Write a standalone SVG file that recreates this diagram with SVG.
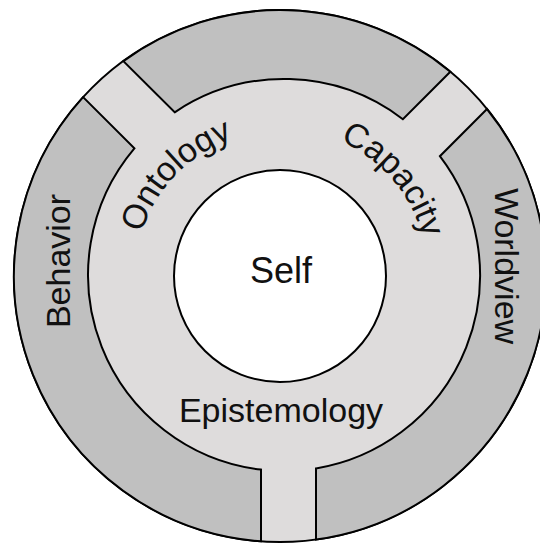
<svg xmlns="http://www.w3.org/2000/svg" width="540" height="544" viewBox="0 0 540 544">
  <style>
    .edge { stroke: #000; stroke-width: 2; stroke-linejoin: miter; }
    .base { fill: #dedcdc; }
    .band { fill: #c0c0c0; }
    .core { fill: #ffffff; }
    .label { font-family: "Liberation Sans", Arial, sans-serif; font-size: 34px; fill: #111; }
    .title { font-family: "Liberation Sans", Arial, sans-serif; font-size: 36px; fill: #111; }
  </style>
  <defs>
    <!-- baseline arcs for the curved labels, clockwise around the centre -->
    <path id="arc-left" d="M 135 276 A 145 145 0 0 1 280 131"/>
    <path id="arc-right" d="M 280 128 A 148 148 0 0 1 428 276"/>
  </defs>

  <!-- outer disc: the light channels show through between the bands -->
  <g id="disc">
    <circle class="base edge" cx="280" cy="276" r="266"/>
  </g>

  <!-- outer bands -->
  <g id="band-top">
    <path class="band edge" d="M 123.4 61.1 A 266 266 0 0 1 450.3 71.7 L 402.9 119.2 A 196 196 0 0 0 174.7 112.3 Z"/>
  </g>
  <g id="band-behavior">
    <path class="band edge" d="M 83.1 97.1 L 134.4 148.4 A 196 196 0 0 0 261 469.6 L 261 541.3 A 266 266 0 0 1 83.1 97.1 Z"/>
    <text class="label" text-anchor="middle" transform="translate(70 261) rotate(-90)">Behavior</text>
  </g>
  <g id="band-worldview">
    <path class="band edge" d="M 487 109 L 439.9 156.2 A 196 196 0 0 1 316 468.4 L 316 539.6 A 266 266 0 0 0 487 109 Z"/>
    <text class="label" text-anchor="middle" transform="translate(495 266) rotate(90)">Worldview</text>
  </g>

  <!-- inner ring labels -->
  <g id="ontology">
    <text class="label"><textPath href="#arc-left" startOffset="49%" text-anchor="middle">Ontology</textPath></text>
  </g>
  <g id="capacity">
    <text class="label"><textPath href="#arc-right" startOffset="55%" text-anchor="middle">Capacity</textPath></text>
  </g>
  <g id="epistemology">
    <text class="label" x="281" y="422" text-anchor="middle">Epistemology</text>
  </g>

  <!-- centre -->
  <g id="self">
    <circle class="core edge" cx="280" cy="276" r="106"/>
    <text class="title" x="281" y="283" text-anchor="middle">Self</text>
  </g>
</svg>
